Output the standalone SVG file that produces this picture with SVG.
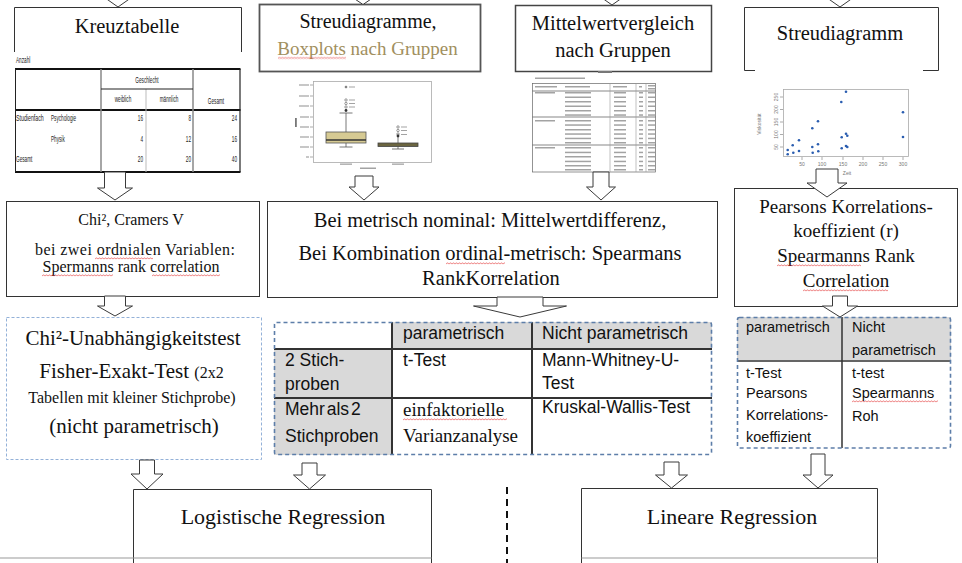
<svg xmlns="http://www.w3.org/2000/svg" width="962" height="563" viewBox="0 0 962 563">
<style>
.serif{font-family:"Liberation Serif","Times New Roman",serif;fill:#111}
.sans{font-family:"Liberation Sans",Arial,sans-serif;fill:#111}
.c{text-anchor:middle}
.e{text-anchor:end}
.edge{fill:none;stroke:#333;stroke-width:1}
.arrow{fill:#fff;stroke:#3a3a3a;stroke-width:1}
.tiny{font-family:"Liberation Sans",Arial,sans-serif;fill:#1a1a1a;font-size:8.5px}
.axis{font-family:"Liberation Sans",Arial,sans-serif;fill:#777;font-size:5px}
.smudge{fill:#a3a3a3}
.tick{stroke:#888;stroke-width:0.7;fill:none}
.grid{stroke:#333;stroke-width:2}
.cell{fill:#d9d9d9}
.dash-blue{fill:none;stroke:#5d7ea9;stroke-width:1.6;stroke-dasharray:4 3}
.dash-light{fill:none;stroke:#93b1d8;stroke-width:1;stroke-dasharray:3 2}
.pt{fill:#2a5db0}
</style>
<defs>
  <pattern id="squiggle" width="3" height="3" patternUnits="userSpaceOnUse">
    <path d="M0,2.3 L1.5,0.7 L3,2.3" fill="none" stroke="#e23a3a" stroke-width="0.7"/>
  </pattern>
  <g id="mrow" class="smudge">
    <rect x="565" width="26" height="1.5"/>
    <rect x="614" width="12" height="1.5"/>
    <rect x="639" width="4" height="1.5"/>
    <rect x="648" width="7" height="1.5"/>
  </g>
</defs>

<rect width="962" height="563" fill="#fff"/>

<!-- top row -->
<g id="kreuztabelle">
  <path class="edge" d="M14.5,52 V7.5 H241.5 V52"/>
  <text class="serif c" x="127" y="33" font-size="20.5">Kreuztabelle</text>
</g>

<!-- cross table output, narrow type -->
<g id="kreuztabelle-ausgabe">
  <text class="tiny" transform="translate(16,63) scale(0.55,1)" font-size="7.5">Anzahl</text>
  <line x1="15" y1="69" x2="240.5" y2="69" stroke="#111" stroke-width="2.2"/>
  <line x1="15" y1="110" x2="240.5" y2="110" stroke="#111" stroke-width="2.2"/>
  <line x1="15" y1="172" x2="240.5" y2="172" stroke="#111" stroke-width="2.2"/>
  <line x1="15.5" y1="69" x2="15.5" y2="172" stroke="#222" stroke-width="1"/>
  <line x1="240" y1="69" x2="240" y2="172" stroke="#222" stroke-width="1.2"/>
  <line x1="101" y1="69" x2="101" y2="172" stroke="#888" stroke-width="1.5"/>
  <line x1="146" y1="89" x2="146" y2="172" stroke="#bbb" stroke-width="1"/>
  <line x1="193" y1="69" x2="193" y2="172" stroke="#888" stroke-width="1.5"/>
  <line x1="101" y1="89" x2="193" y2="89" stroke="#222" stroke-width="1.2"/>
  <text class="tiny c" transform="translate(147,83) scale(0.55,1)">Geschlecht</text>
  <text class="tiny c" transform="translate(123,102) scale(0.55,1)">weiblich</text>
  <text class="tiny c" transform="translate(169,102) scale(0.55,1)">männlich</text>
  <text class="tiny c" transform="translate(216,104) scale(0.55,1)">Gesamt</text>
  <text class="tiny" transform="translate(16,121) scale(0.62,1)">Studienfach</text>
  <text class="tiny" transform="translate(51,121) scale(0.55,1)">Psychologie</text>
  <text class="tiny e" transform="translate(143,121) scale(0.55,1)">16</text>
  <text class="tiny e" transform="translate(191,121) scale(0.55,1)">8</text>
  <text class="tiny e" transform="translate(237,121) scale(0.55,1)">24</text>
  <text class="tiny" transform="translate(51,142) scale(0.55,1)">Physik</text>
  <text class="tiny e" transform="translate(143,142) scale(0.55,1)">4</text>
  <text class="tiny e" transform="translate(191,142) scale(0.55,1)">12</text>
  <text class="tiny e" transform="translate(237,142) scale(0.55,1)">16</text>
  <text class="tiny" transform="translate(16,162) scale(0.55,1)">Gesamt</text>
  <text class="tiny e" transform="translate(143,162) scale(0.55,1)">20</text>
  <text class="tiny e" transform="translate(191,162) scale(0.55,1)">20</text>
  <text class="tiny e" transform="translate(237,162) scale(0.55,1)">40</text>
</g>

<g id="streudiagramme">
  <rect x="259.5" y="4.5" width="221" height="67" fill="#fff" stroke="#555" stroke-width="1.8"/>
  <text class="serif c" x="368" y="28" font-size="20">Streudiagramme,</text>
  <text class="serif c" x="367.5" y="55" font-size="19" style="fill:#a18f5e">Boxplots nach Gruppen</text>
  <rect transform="translate(278,56.5)" width="68" height="3" fill="url(#squiggle)"/>
</g>

<g id="boxplot">
  <rect x="313.5" y="81.5" width="118" height="81" fill="none" stroke="#aaa" stroke-width="0.8"/>
  <path class="tick" d="M310,85H313 M310,96H313 M310,106H313 M310,117H313 M310,127H313 M310,137H313 M310,147H313 M310,157H313"/>
  <g class="smudge">
    <rect x="299" y="84.4" width="10" height="1.2"/>
    <rect x="299" y="95.4" width="10" height="1.2"/>
    <rect x="299" y="105.4" width="10" height="1.2"/>
    <rect x="300" y="116.4" width="9" height="1.2"/>
    <rect x="300" y="126.4" width="9" height="1.2"/>
    <rect x="300" y="136.4" width="9" height="1.2"/>
    <rect x="300" y="146.4" width="9" height="1.2"/>
    <rect x="306" y="156.4" width="3" height="1.2"/>
    <rect x="340" y="163.5" width="12" height="1.3"/>
    <rect x="392" y="163.5" width="12" height="1.3"/>
    <rect x="360" y="167.5" width="16" height="1.5"/>
    <rect x="349" y="86.5" width="6" height="1"/>
    <rect x="349" y="99.5" width="6" height="1"/>
    <rect x="349" y="103" width="6" height="1"/>
    <rect x="349" y="106.5" width="6" height="1"/>
    <rect x="401" y="126.5" width="6" height="1"/>
    <rect x="401" y="130" width="6" height="1"/>
    <rect x="401" y="134" width="6" height="1"/>
  </g>
  <rect x="295" y="118" width="1.8" height="9" fill="#777"/>
  <path d="M346,113V132 M346,143V147 M339.5,113H352.5 M339.5,147H352.5" stroke="#555" stroke-width="0.8" fill="none"/>
  <rect x="326" y="132" width="40" height="11" fill="#d6ca93" stroke="#555" stroke-width="0.8"/>
  <line x1="326" y1="140" x2="366" y2="140" stroke="#333" stroke-width="1.5"/>
  <g fill="none" stroke="#555" stroke-width="0.6">
    <circle cx="346" cy="100" r="1.2"/>
    <circle cx="346" cy="103.5" r="1.2"/>
    <circle cx="346" cy="107" r="1.2"/>
    <circle cx="398" cy="127" r="1.2"/>
    <circle cx="398" cy="130.5" r="1.2"/>
    <circle cx="398" cy="134" r="1.2"/>
  </g>
  <circle cx="346" cy="110.5" r="1.4" fill="#333"/>
  <circle cx="398" cy="136" r="1.4" fill="#333"/>
  <path d="M344.5,87H347.5 M346,85.5V88.5 M345,86L347,88 M347,86L345,88" stroke="#555" stroke-width="0.5"/>
  <path d="M398,137V143 M398,146.5V149 M392,149H404" stroke="#555" stroke-width="0.8" fill="none"/>
  <rect x="378" y="143" width="40" height="3.5" fill="#6b6540" stroke="#444" stroke-width="0.8"/>
</g>

<g id="mittelwertvergleich">
  <rect x="515.5" y="5.5" width="196" height="66" fill="#fff" stroke="#444" stroke-width="1.5"/>
  <text class="serif c" x="613" y="30" font-size="20.5">Mittelwertvergleich</text>
  <text class="serif c" x="613" y="57" font-size="20.5">nach Gruppen</text>
</g>

<g id="mittelwert-tabelle">
  <rect x="598" y="71" width="14" height="2" fill="#777"/>
  <rect x="535" y="77.5" width="50" height="1.5" class="smudge"/>
  <rect x="532.5" y="83.5" width="123" height="88.5" fill="none" stroke="#666" stroke-width="0.7"/>
  <path d="M532.5,91H655.5 M532.5,117H655.5 M532.5,145H655.5" stroke="#555" stroke-width="0.7"/>
  <path d="M610,83.5V172 M636,83.5V172 M646,83.5V172" stroke="#999" stroke-width="0.6"/>
  <g class="smudge">
    <rect x="535" y="86" width="22" height="1.5"/>
    <rect x="565" y="86" width="25" height="1.5"/>
    <rect x="613" y="86" width="14" height="1.5"/>
    <rect x="639" y="86" width="3" height="1.5"/>
    <rect x="648" y="85" width="7" height="1.5"/>
    <rect x="648" y="88" width="7" height="1.5"/>
    <rect x="535" y="92" width="20" height="1.5"/>
    <rect x="535" y="120" width="20" height="1.5"/>
    <rect x="535" y="147" width="20" height="1.5"/>
  </g>
  <use href="#mrow" y="92"/>
  <use href="#mrow" y="96.5"/>
  <use href="#mrow" y="101"/>
  <use href="#mrow" y="105.5"/>
  <use href="#mrow" y="110"/>
  <use href="#mrow" y="114.3"/>
  <use href="#mrow" y="120"/>
  <use href="#mrow" y="124.3"/>
  <use href="#mrow" y="129"/>
  <use href="#mrow" y="133.3"/>
  <use href="#mrow" y="137.7"/>
  <use href="#mrow" y="142"/>
  <use href="#mrow" y="147"/>
  <use href="#mrow" y="151.7"/>
  <use href="#mrow" y="156"/>
  <use href="#mrow" y="160.7"/>
  <use href="#mrow" y="165"/>
  <use href="#mrow" y="169"/>
</g>

<g id="streudiagramm">
  <path class="edge" d="M744.5,70.5 V7.5 H938.5 V70.5 M744.5,70.5 H755 M923,70.5 H938.5"/>
  <text class="serif c" x="840" y="40" font-size="20.5">Streudiagramm</text>
</g>

<g id="streudiagramm-plot">
  <rect x="783.5" y="89.5" width="125" height="67" fill="none" stroke="#aaa" stroke-width="0.8"/>
  <path class="tick" d="M780,147H783 M780,134.5H783 M780,122H783 M780,109.5H783 M780,97H783 M802,157V160 M822,157V160 M843,157V160 M863,157V160 M883,157V160 M903,157V160"/>
  <text class="axis c" transform="translate(778,147) rotate(-90)">50</text>
  <text class="axis c" transform="translate(778,134.5) rotate(-90)">100</text>
  <text class="axis c" transform="translate(778,122) rotate(-90)">150</text>
  <text class="axis c" transform="translate(778,109.5) rotate(-90)">200</text>
  <text class="axis c" transform="translate(778,97) rotate(-90)">250</text>
  <text class="axis c" x="802" y="166">50</text>
  <text class="axis c" x="822" y="166">100</text>
  <text class="axis c" x="843" y="166">150</text>
  <text class="axis c" x="863" y="166">200</text>
  <text class="axis c" x="883" y="166">250</text>
  <text class="axis c" x="903" y="166">300</text>
  <text class="axis c" x="847" y="175" font-size="5.5">Zeit</text>
  <text class="axis c" transform="translate(761,124) rotate(-90)" font-size="5.5">Viskosität</text>
  <circle class="pt" cx="787.7" cy="150" r="1.3"/>
  <circle class="pt" cx="787.7" cy="154.3" r="1.3"/>
  <circle class="pt" cx="792.7" cy="145.3" r="1.3"/>
  <circle class="pt" cx="793.3" cy="152.7" r="1.3"/>
  <circle class="pt" cx="799" cy="140.3" r="1.3"/>
  <circle class="pt" cx="799" cy="151" r="1.3"/>
  <circle class="pt" cx="812.3" cy="128.3" r="1.3"/>
  <circle class="pt" cx="812.3" cy="147" r="1.3"/>
  <circle class="pt" cx="812.7" cy="152.7" r="1.3"/>
  <circle class="pt" cx="818" cy="121.3" r="1.3"/>
  <circle class="pt" cx="818" cy="144.3" r="1.3"/>
  <circle class="pt" cx="818.3" cy="151.3" r="1.3"/>
  <circle class="pt" cx="841.3" cy="102" r="1.3"/>
  <circle class="pt" cx="841.7" cy="137.3" r="1.3"/>
  <circle class="pt" cx="841.7" cy="148.3" r="1.3"/>
  <circle class="pt" cx="846" cy="91.7" r="1.3"/>
  <circle class="pt" cx="846" cy="133.7" r="1.3"/>
  <circle class="pt" cx="847.3" cy="135.7" r="1.3"/>
  <circle class="pt" cx="846" cy="146" r="1.3"/>
  <circle class="pt" cx="847.3" cy="147" r="1.3"/>
  <circle class="pt" cx="903" cy="112.3" r="1.3"/>
  <circle class="pt" cx="903" cy="137" r="1.3"/>
</g>

<!-- middle row -->
<g id="zusammenhangsmass-nominal">
  <rect x="6.5" y="201.5" width="253" height="95" fill="#fff" stroke="#333"/>
  <text class="serif c" x="131" y="225" font-size="16">Chi², Cramers V</text>
  <text class="serif c" x="135" y="255" font-size="16" textLength="200" lengthAdjust="spacing">bei zwei ordnialen Variablen:</text>
  <text class="serif c" x="131" y="272" font-size="16">Spermanns rank correlation</text>
  <rect transform="translate(95,257)" width="58" height="3" fill="url(#squiggle)"/>
  <rect transform="translate(42,274)" width="71" height="3" fill="url(#squiggle)"/>
  <rect transform="translate(152,274)" width="68" height="3" fill="url(#squiggle)"/>
</g>

<g id="zusammenhangsmass-metrisch-nominal">
  <rect x="267.5" y="201.5" width="450" height="96" fill="#fff" stroke="#333"/>
  <text class="serif c" x="490" y="227" font-size="20.5">Bei metrisch nominal: Mittelwertdifferenz,</text>
  <text class="serif c" x="490" y="260" font-size="20.5">Bei Kombination ordinal-metrisch: Spearmans</text>
  <text class="serif c" x="491" y="285" font-size="20.5">RankKorrelation</text>
  <rect transform="translate(446,262)" width="59" height="3" fill="url(#squiggle)"/>
</g>

<g id="zusammenhangsmass-metrisch">
  <rect x="734.5" y="188.5" width="223" height="118" fill="#fff" stroke="#333"/>
  <text class="serif c" x="846" y="213" font-size="19">Pearsons Korrelations-</text>
  <text class="serif c" x="846" y="237" font-size="19">koeffizient (r)</text>
  <text class="serif c" x="846" y="262" font-size="19">Spearmanns Rank</text>
  <text class="serif c" x="846" y="287" font-size="19">Correlation</text>
  <rect transform="translate(777,264)" width="84" height="3" fill="url(#squiggle)"/>
  <rect transform="translate(803,289)" width="85" height="3" fill="url(#squiggle)"/>
</g>

<!-- test row -->
<g id="tests-nominal">
  <rect class="dash-light" x="6.5" y="317.5" width="255" height="142"/>
  <text class="serif c" x="133" y="345" font-size="21">Chi²-Unabhängigkeitstest</text>
  <text class="serif c" x="131.5" y="378" font-size="21">Fisher-Exakt-Test <tspan font-size="16">(2x2</tspan></text>
  <text class="serif c" x="132" y="403" font-size="16">Tabellen mit kleiner Stichprobe)</text>
  <text class="serif c" x="134" y="433" font-size="21">(nicht parametrisch)</text>
</g>

<g id="tests-gruppen">
  <rect class="cell" x="392" y="322" width="320" height="27"/>
  <rect class="cell" x="274" y="349" width="118" height="106"/>
  <path class="grid" d="M392,322V455 M532,322V455 M274,349H712 M274,398H712"/>
  <rect class="dash-blue" x="274.5" y="322.5" width="437" height="132" rx="2"/>
  <text class="sans" x="403" y="339" font-size="17.5">parametrisch</text>
  <text class="sans" x="542" y="339" font-size="17.5">Nicht parametrisch</text>
  <text class="sans" x="285" y="366" font-size="17.5">2 Stich-</text>
  <text class="sans" x="285" y="390" font-size="17.5">proben</text>
  <text class="sans" x="403" y="366" font-size="17.5">t-Test</text>
  <text class="sans" x="542" y="366" font-size="17.5">Mann-Whitney-U-</text>
  <text class="sans" x="542" y="389" font-size="17.5">Test</text>
  <text class="sans" x="285" y="415" font-size="17.5" word-spacing="-3">Mehr als 2</text>
  <text class="sans" x="285" y="442" font-size="17.5">Stichproben</text>
  <text class="serif" x="403" y="416" font-size="19">einfaktorielle</text>
  <text class="serif" x="403" y="442" font-size="19">Varianzanalyse</text>
  <text class="sans" x="542" y="413" font-size="17.5">Kruskal-Wallis-Test</text>
  <rect transform="translate(403,418)" width="104" height="3" fill="url(#squiggle)"/>
</g>

<g id="tests-metrisch">
  <rect class="cell" x="737" y="317" width="214" height="43"/>
  <path d="M842,317V448 M737,361H951" stroke="#333" stroke-width="1.5"/>
  <rect class="dash-blue" x="737.5" y="317.5" width="213" height="130.5" rx="2"/>
  <text class="sans" x="746" y="332" font-size="14.5">parametrisch</text>
  <text class="sans" x="852" y="332" font-size="14.5">Nicht</text>
  <text class="sans" x="852" y="355" font-size="14.5">parametrisch</text>
  <text class="sans" x="746" y="378" font-size="14.5">t-Test</text>
  <text class="sans" x="746" y="398" font-size="14.5">Pearsons</text>
  <text class="sans" x="746" y="420" font-size="14.5">Korrelations-</text>
  <text class="sans" x="746" y="442" font-size="14.5">koeffizient</text>
  <text class="sans" x="852" y="378" font-size="14.5">t-test</text>
  <text class="sans" x="852" y="398" font-size="14.5">Spearmanns</text>
  <text class="sans" x="852" y="421" font-size="14.5">Roh</text>
  <rect transform="translate(852,400)" width="86" height="3" fill="url(#squiggle)"/>
</g>

<!-- bottom row -->
<g id="logistische-regression">
  <path class="edge" d="M133.5,563 V489.5 H431.5 V563"/>
  <line x1="0" y1="558" x2="431.5" y2="558" stroke="#999" stroke-width="1"/>
  <text class="serif c" x="283" y="524" font-size="22">Logistische Regression</text>
</g>

<g id="lineare-regression">
  <path class="edge" d="M581.5,563 V488.5 H877.5 V563"/>
  <line x1="581.5" y1="558" x2="877.5" y2="558" stroke="#999" stroke-width="1"/>
  <text class="serif c" x="732" y="524" font-size="22">Lineare Regression</text>
</g>

<line id="trennlinie" x1="507" y1="487" x2="507" y2="563" stroke="#111" stroke-width="2" stroke-dasharray="7 5"/>

<g id="connectors">
  <polygon class="arrow" points="108,-20 128,-20 128,-5 135,-5 118,7 101,-5 108,-5"/>
  <polygon class="arrow" points="353,-20 373,-20 373,-7 380,-7 363,4.5 346,-7 353,-7"/>
  <polygon class="arrow" points="602,-20 622,-20 622,-7 629,-7 612,5 595,-7 602,-7"/>
  <polygon class="arrow" points="830,-20 850,-20 850,-5 857,-5 840,7 823,-5 830,-5"/>

  <polygon class="arrow" points="104.5,172 125.5,172 125.5,188 132.5,188 115,200 97.5,188 104.5,188"/>
  <polygon class="arrow" points="355,176 373,176 373,187 379,187 364,200 349,187 355,187"/>
  <polygon class="arrow" points="593,172 609,172 609,187 615.5,187 601,200 586.5,187 593,187"/>
  <polygon class="arrow" points="816,169 838,169 838,183 847,183 827,197 807,183 816,183"/>

  <polygon class="arrow" points="104.5,296 125.5,296 125.5,306 132.5,306 115,316 97.5,306 104.5,306"/>
  <polygon class="arrow" points="497,297 543,297 543,306 566.5,306 520,317 473.5,306 497,306"/>
  <polygon class="arrow" points="832.5,296 847.5,296 847.5,306 857.5,306 840,317 822.5,306 832.5,306"/>

  <polygon class="arrow" points="139.5,460 154.5,460 154.5,474 163,474 147,489 131,474 139.5,474"/>
  <polygon class="arrow" points="302,463 317,463 317,475 325.5,475 309.5,489 293.5,475 302,475"/>
  <polygon class="arrow" points="664,462 679,462 679,475 687.5,475 671.5,488 655.5,475 664,475"/>
  <polygon class="arrow" points="811,454 825,454 825,475 833,475 818,488 803,475 811,475"/>
</g>
</svg>
